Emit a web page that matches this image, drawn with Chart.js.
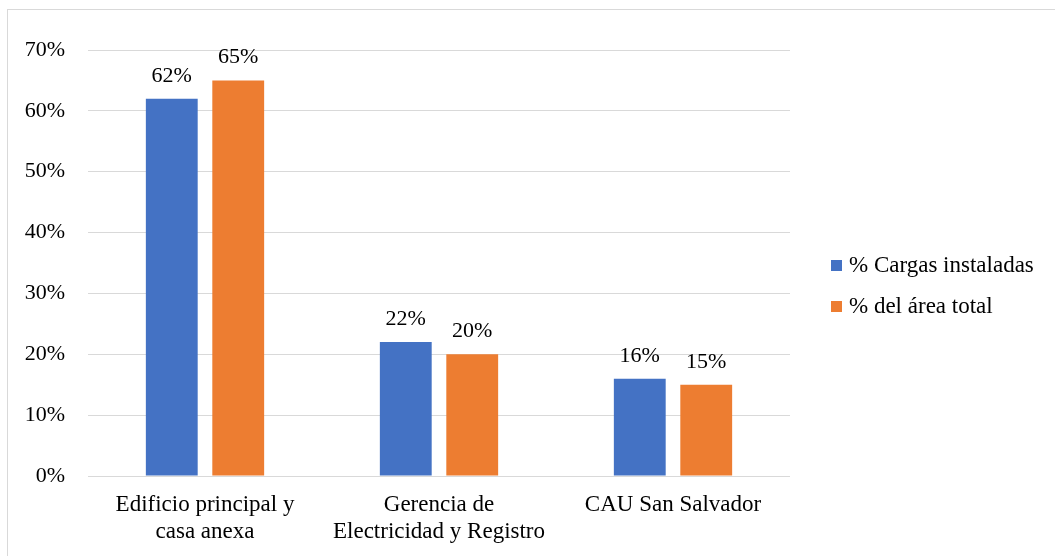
<!DOCTYPE html>
<html>
<head>
<meta charset="utf-8">
<script src="https://cdn.jsdelivr.net/npm/chart.js@4/dist/chart.umd.min.js"></script>
<style>
  html, body { margin: 0; padding: 0; background: #ffffff; }
  #wrap { width: 1055px; height: 556px; position: relative; }
</style>
</head>
<body>
<div id="wrap"><canvas id="chart" width="1055" height="556"></canvas></div>
<script>
// Categories (multi-line labels) and series values in percent
const categories = [
  ['Edificio principal y', 'casa anexa'],
  ['Gerencia de', 'Electricidad y Registro'],
  'CAU San Salvador'
];
const seriesNames = ['% Cargas instaladas', '% del área total'];
const cargasInstaladas = [62, 22, 16];
const areaTotal = [65, 20, 15];
const yTicks = [0, 10, 20, 30, 40, 50, 60, 70];

const BLUE = '#4472C4';
const ORANGE = '#ED7D31';
const FONT = '"Liberation Serif", "Times New Roman", serif';

// Frame around the whole figure
const framePlugin = {
  id: 'frame',
  beforeDraw(chart) {
    const ctx = chart.ctx;
    ctx.save();
    ctx.fillStyle = '#ffffff';
    ctx.fillRect(0, 0, chart.width, chart.height);
    ctx.strokeStyle = '#d9d9d9';
    ctx.lineWidth = 1;
    ctx.strokeRect(7.5, 9.5, chart.width + 10, chart.height + 10);
    ctx.restore();
  }
};

// Value labels above each bar
const valueLabels = {
  id: 'valueLabels',
  afterDatasetsDraw(chart) {
    const ctx = chart.ctx;
    ctx.save();
    ctx.font = '22px ' + FONT;
    ctx.fillStyle = '#000000';
    ctx.textAlign = 'center';
    ctx.textBaseline = 'alphabetic';
    chart.data.datasets.forEach((ds, i) => {
      chart.getDatasetMeta(i).data.forEach((bar, j) => {
        ctx.fillText(ds.data[j] + '%', bar.x, bar.y - 17);
      });
    });
    ctx.restore();
  }
};

// Legend on the right side
const sideLegend = {
  id: 'sideLegend',
  afterDraw(chart) {
    const ctx = chart.ctx;
    ctx.save();
    ctx.font = '23px ' + FONT;
    ctx.textAlign = 'left';
    ctx.textBaseline = 'middle';
    chart.data.datasets.forEach((ds, i) => {
      const y = 260 + i * 41;
      ctx.fillStyle = ds.backgroundColor;
      ctx.fillRect(831, y, 11, 11);
      ctx.fillStyle = '#000000';
      ctx.fillText(ds.label, 849, y + 6);
    });
    ctx.restore();
  }
};

new Chart(document.getElementById('chart'), {
  type: 'bar',
  data: {
    labels: categories,
    datasets: [
      { label: seriesNames[0], data: cargasInstaladas, backgroundColor: BLUE },
      { label: seriesNames[1], data: areaTotal, backgroundColor: ORANGE }
    ]
  },
  options: {
    responsive: false,
    animation: false,
    events: [],
    categoryPercentage: 0.568,
    barPercentage: 0.78,
    layout: { padding: { top: 50, right: 265, left: 0, bottom: 0 } },
    plugins: {
      legend: { display: false },
      tooltip: { enabled: false }
    },
    scales: {
      x: {
        grid: { display: false, drawTicks: false },
        border: { display: false },
        ticks: {
          color: '#000000',
          font: { family: FONT, size: 23, lineHeight: 1.18 },
          padding: 15,
          maxRotation: 0,
          minRotation: 0,
          autoSkip: false
        },
        afterFit(scale) { scale.height = 80; }
      },
      y: {
        min: 0,
        max: 70,
        afterBuildTicks(scale) { scale.ticks = yTicks.map(v => ({ value: v })); },
        grid: { color: '#d9d9d9', lineWidth: 1, drawTicks: false },
        border: { display: false },
        ticks: {
          color: '#000000',
          font: { family: FONT, size: 22 },
          padding: 23,
          callback: v => v + '%'
        },
        afterFit(scale) { scale.width = 88; }
      }
    }
  },
  plugins: [framePlugin, valueLabels, sideLegend]
});
</script>
</body>
</html>
